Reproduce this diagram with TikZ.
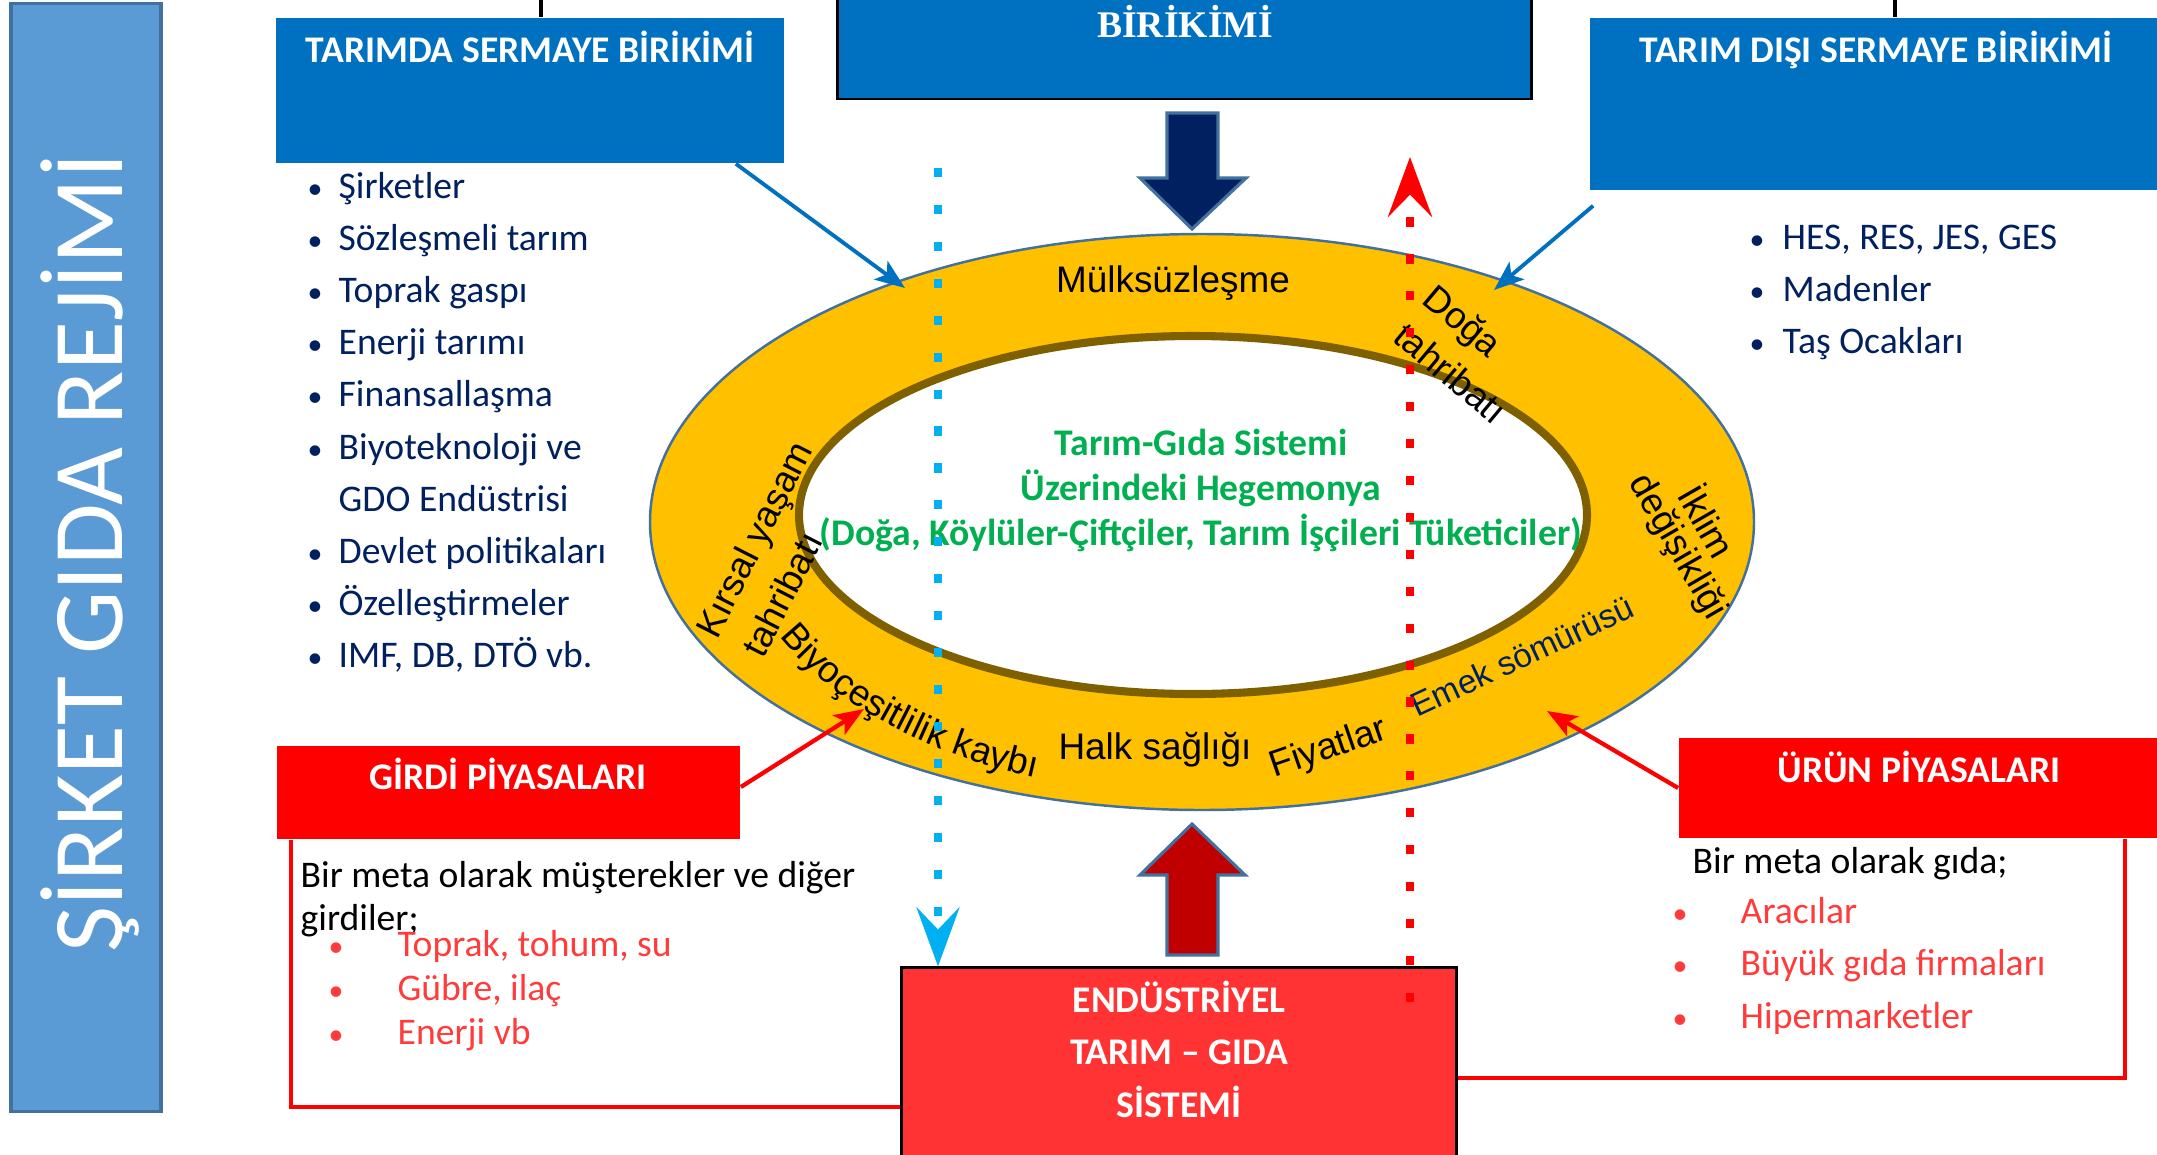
\documentclass[tikz,border=0pt]{standalone}
\usepackage{fontspec}
\setmainfont{Carlito}
\newfontfamily\arialfont{Liberation Sans}
\newfontfamily\seriffont{Liberation Serif}
\usetikzlibrary{arrows.meta,decorations.text}

\definecolor{barblue}{HTML}{5B9BD5}
\definecolor{edgeblue}{HTML}{41719C}
\definecolor{boxblue}{HTML}{0070C0}
\definecolor{navy}{HTML}{002060}
\definecolor{arrowred}{HTML}{C00000}
\definecolor{ringgold}{HTML}{FFC000}
\definecolor{ringbrown}{HTML}{7F6000}
\definecolor{sysred}{HTML}{FF3333}
\definecolor{itemred}{HTML}{FF3B3B}
\definecolor{hegreen}{HTML}{00B050}
\definecolor{dotcyan}{HTML}{00B0F0}

\newcommand\basesize{\fontsize{10.7}{13}\selectfont}
\newcommand\ringsize{\fontsize{10.5}{13}\selectfont}
\newcommand\dotsize{\fontsize{8.5}{10}\selectfont}

\tikzset{
  box/.style={rectangle, inner sep=0pt},
  headtxt/.style={anchor=base, inner sep=0pt, text=white, font=\bfseries\basesize},
  itemtxt/.style={anchor=base west, inner sep=0pt, text=navy, font=\basesize},
  itemdot/.style={anchor=base, inner sep=0pt, text=navy, font=\dotsize},
  plaintxt/.style={anchor=base west, inner sep=0pt, font=\basesize},
  redtxt/.style={anchor=base west, inner sep=0pt, text=itemred, font=\basesize},
  reddot/.style={anchor=base, inner sep=0pt, text=itemred, font=\dotsize},
  ringtxt/.style={font=\arialfont\ringsize, inner sep=0pt},
  greentxt/.style={anchor=base, inner sep=0pt, text=hegreen, font=\bfseries\basesize},
  bluearrow/.style={draw=boxblue, line width=1.1pt, -{Stealth[length=8.5pt,width=6.5pt,inset=2pt]}},
  redarrow/.style={draw=red, line width=1.2pt, -{Stealth[length=8.5pt,width=6.5pt,inset=2pt]}},
  redline/.style={draw=red, line width=1.3pt},
  blockarrow/.style={draw=edgeblue, line width=0.9pt, line join=miter},
  dotline/.style={line width=2.3pt, dash pattern=on 2.6pt off 7.9pt},
}

\begin{document}
\begin{tikzpicture}[x=0.01cm, y=-0.01cm]
\useasboundingbox (0,0) rectangle (2157,1154);
\clip (0,0) rectangle (2157,1154);

% left band
\node[box, fill=barblue, draw=edgeblue, line width=0.9pt, minimum width=1.5cm, minimum height=11.07cm] (band) at (86,557.5) {};
\node[text=white, font=\fontsize{28.5}{32}\selectfont, rotate=90] (regime) at (90,553) {ŞİRKET GIDA REJİMİ};

% capital boxes
\node[box, fill=boxblue, minimum width=5.08cm, minimum height=1.45cm] (tarim) at (530,90.5) {};
\node[box, fill=boxblue, draw=black, line width=0.8pt, minimum width=6.93cm, minimum height=1.59cm] (birikim) at (1184.5,19.5) {};
\node[box, fill=boxblue, minimum width=5.80cm, minimum height=1.72cm] (dishi) at (1880,104) {};
\node[headtxt] (tarimhd) at (530,62) {TARIMDA SERMAYE BİRİKİMİ};
\node[headtxt, font=\seriffont\bfseries\basesize] (birikimhd) at (1185,37) {BİRİKİMİ};
\node[headtxt] (dishihd) at (1876,62) {TARIM DIŞI SERMAYE BİRİKİMİ};
\coordinate (ltop) at (541,0);
\coordinate (rtop) at (1895,0);
\draw[line width=0.9pt] (ltop) -- (ltop |- tarim.north);
\draw[line width=0.9pt] (rtop) -- (rtop |- dishi.north);

% lists
\foreach \txt [count=\i from 0] in {Şirketler, Sözleşmeli tarım, Toprak gaspı, Enerji tarımı, Finansallaşma, Biyoteknoloji ve, GDO Endüstrisi, Devlet politikaları, Özelleştirmeler, {IMF, DB, DTÖ vb.}}{
  \node[itemtxt] (ltxt\i) at (338,198+52.2*\i) {\txt};
  \ifnum\i=6\else\node[itemdot] (ldot\i) at (315,198+52.2*\i) {•};\fi
}
\foreach \txt [count=\i from 0] in {{HES, RES, JES, GES}, Madenler, Taş Ocakları}{
  \node[itemtxt] (rtxt\i) at (1782,249+52*\i) {\txt};
  \node[itemdot] (rdot\i) at (1757,249+52*\i) {•};
}

% ring
\coordinate (ring) at (1202,522);
\coordinate (hole) at (1193,515);
\filldraw[fill=ringgold, draw=edgeblue, line width=0.7pt] (ring) ellipse [x radius=552, y radius=288];
\filldraw[fill=white, draw=ringbrown, line width=2.3pt] (hole) ellipse [x radius=394, y radius=179];

% block arrows
\filldraw[blockarrow, fill=navy] (1167,113) -- (1218,113) -- (1218,178) -- (1246,178) -- (1192,229) -- (1140,178) -- (1167,178) -- cycle;
\filldraw[blockarrow, fill=arrowred] (1167,955) -- (1218,955) -- (1218,875) -- (1245,875) -- (1192,824) -- (1140,875) -- (1167,875) -- cycle;

% ring labels
\node[ringtxt, anchor=base] (mulk) at (1173,292) {Mülksüzleşme};
\node[ringtxt, rotate=-40] (doga) at (1461,323) {Doğa};
\node[ringtxt, rotate=-40] (dogatah) at (1451,373) {tahribatı};
\node[ringtxt, rotate=63] (kirsal) at (757,541) {Kırsal yaşam};
\node[ringtxt, rotate=63] (kirtah) at (782,594) {tahribatı};
\node[ringtxt, rotate=-60] (iklim) at (1709,520) {İklim};
\node[ringtxt, rotate=-60] (degis) at (1677,547) {değişikliği};
\node[ringtxt, font=\arialfont\fontsize{9.5}{11}\selectfont, text=navy, rotate=25] (emek) at (1522,656) {Emek sömürüsü};
\node[ringtxt, rotate=19] (fiyat) at (1329,749) {Fiyatlar};
\node[ringtxt, anchor=base] (halk) at (1155,759) {Halk sağlığı};
\path[decorate, decoration={text along path, text align=center, text={|\arialfont\ringsize|Biyoçeşitlilik kaybı}}]
  (hole) ++(160:459 and 280) arc[start angle=160, end angle=106, x radius=459, y radius=280];

% hegemony
\node[greentxt] (heg1) at (1201,455) {Tarım-Gıda Sistemi};
\node[greentxt] (heg2) at (1201,500) {Üzerindeki Hegemonya};
\node[greentxt] (heg3) at (1201,545) {(Doğa, Köylüler-Çiftçiler, Tarım İşçileri Tüketiciler)};

% markets
\node[box, fill=red, minimum width=4.63cm, minimum height=0.93cm] (girdi) at (508.5,792.5) {};
\node[headtxt] (girdihd) at (508,789) {GİRDİ PİYASALARI};
\node[plaintxt] (g1) at (300,887) {Bir meta olarak müşterekler ve diğer};
\node[plaintxt] (g2) at (300,930) {girdiler;};
\foreach \txt [count=\i from 0] in {{Toprak, tohum, su}, {Gübre, ilaç}, Enerji vb}{
  \node[redtxt] (gtxt\i) at (397,956+44*\i) {\txt};
  \node[reddot] (gdot\i) at (336,956+44*\i) {•};
}
\node[box, fill=red, minimum width=4.91cm, minimum height=1.0cm] (urun) at (1924.5,788) {};
\node[headtxt] (urunhd) at (1919,782) {ÜRÜN PİYASALARI};
\node[plaintxt] (u1) at (1692,873) {Bir meta olarak gıda;};
\foreach \txt [count=\i from 0] in {Aracılar, Büyük gıda firmaları, Hipermarketler}{
  \node[redtxt] (utxt\i) at (1740,923+52.5*\i) {\txt};
  \node[reddot] (udot\i) at (1680,923+52.5*\i) {•};
}

% industrial system
\node[box, fill=sysred, draw=black, line width=0.85pt, minimum width=5.54cm, minimum height=2.02cm] (endus) at (1179,1069) {};
\node[headtxt] (endus1) at (1179,1012) {ENDÜSTRİYEL};
\node[headtxt] (endus2) at (1179,1064) {TARIM – GIDA};
\node[headtxt] (endus3) at (1179,1117) {SİSTEMİ};

% dotted flows
\coordinate (cyantop) at (938,168);
\coordinate (redbot) at (1410,1002);
\coordinate (redtip) at (1410,157);
\draw[dotline, dotcyan, -{Stealth[length=16.8pt,width=12.2pt,inset=6.3pt]}] (cyantop) -- (cyantop |- endus.north);
\draw[dotline, red, -{Stealth[length=17pt,width=12.5pt,inset=6.3pt]}] (redbot) -- (redtip);

% market frames
\coordinate (gbottom) at (291,1107);
\coordinate (ubottom) at (2125,1078);
\draw[redline] (gbottom |- girdi.south) -- (gbottom) -- (gbottom -| endus.west);
\draw[redline] (ubottom |- urun.south) -- (ubottom) -- (ubottom -| endus.east);

% arrows onto the ring
\coordinate (ringnw) at (905,288);
\coordinate (ringne) at (1494,290);
\coordinate (ringsw) at (864,709);
\coordinate (ringse) at (1547,711);
\draw[bluearrow] ([xshift=-0.49cm]tarim.south east) -- (ringnw);
\draw[bluearrow] ([xshift=0.04cm,yshift=-0.15cm]dishi.south west) -- (ringne);
\draw[redarrow] ([yshift=0.055cm]girdi.east) -- (ringsw);
\draw[redarrow] (urun.west) -- (ringse);
\end{tikzpicture}
\end{document}
